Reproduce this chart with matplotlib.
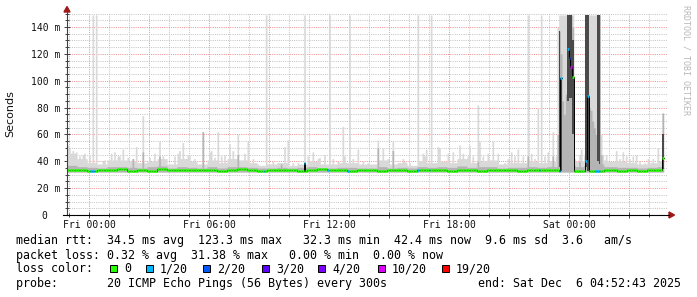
import numpy as np
import matplotlib
matplotlib.use("Agg")
import matplotlib.pyplot as plt
from matplotlib.patches import Polygon, Rectangle
from matplotlib.lines import Line2D
from matplotlib.ticker import MultipleLocator

nan = np.nan

# time axis: 5 minute steps, hours relative to Fri 00:00
START_H = -1.1214          # Thu 22:52:43
STEP_H = 5 / 60
N_STEPS = 360

# median rtt (ms), one value per 30 minutes
median_30min = [33.8, 33.2, 33.0, 33.6, 33.4, 34.2, 33.1, 33.5, 33.0, 33.9,
                33.3, 33.6, 33.2, 33.8, 33.4, 33.0, 33.5, 34.0, 33.3, 33.1,
                33.7, 33.2, 33.6, 33.0, 33.4, 33.9, 33.2, 33.5, 33.1, 33.6,
                33.3, 33.0, 33.8, 33.4, 33.1, 33.5, 33.2, 33.7, 33.0, 33.4,
                33.6, 33.1, 33.3, 33.8, 33.2, 33.0, 33.5, 33.3, 33.4, 33.2,
                33.1, 33.0, 33.3, 33.6, 33.2, 33.0, 33.4, 33.1, 33.5, 33.2]
# upper edge of light smoke (ms), per 30 minutes
smoke_top_30min = [46, 42, 39, 38, 41, 41, 40, 39, 40, 42,
                   38, 42, 40, 38, 41, 39, 42, 41, 39, 37,
                   38, 39, 37, 38, 40, 38, 38, 39, 39, 38,
                   38, 41, 38, 39, 37, 40, 39, 40, 39, 42,
                   39, 40, 41, 38, 39, 39, 40, 39, 40, 41,
                   40, 40, 39, 41, 40, 40, 39, 38, 39, 40]
# upper edge of denser smoke (ms), per 30 minutes
smoke_mid_30min = [37, 36, 35.5, 35, 36, 36, 35.5, 35, 36, 36.5,
                   35, 36, 35.5, 35, 36, 35, 36, 36, 35.5, 35,
                   35, 35.5, 35, 35.5, 36, 35, 35, 35.5, 35.5, 35,
                   35, 36, 35, 35.5, 35, 36, 35.5, 36, 35.5, 36.5,
                   35.5, 36, 36, 35, 35.5, 35.5, 36, 35.5, 36, 36,
                   36, 36, 35.5, 36, 36, 35.5, 35.5, 35, 35.5, 36]
SMOKE_FLOOR = 32.0

# single-step max rtt spikes
spike_hours = [-1.07, -0.97, -0.87, -0.67, -0.47, -0.37, -0.27, -0.02, 0.13, 0.33, 0.63, 0.73, 0.93, 1.08,
               1.28, 1.43, 1.53, 1.63, 1.93, 2.18, 2.33, 2.63, 3.03, 3.28, 3.53, 3.68, 3.83,
               4.28, 4.43, 4.53, 4.68, 4.88, 4.98, 5.28, 5.63, 5.83, 6.03, 6.08, 6.28, 6.43, 6.58,
               6.78, 7.03, 7.13, 7.43, 7.73, 7.93, 8.18, 8.43, 8.83,
               9.18, 9.58, 9.78, 9.93, 10.13, 10.43, 10.73, 10.93, 11.18, 11.38, 11.53, 11.73,
               11.98, 12.18, 12.43, 12.68, 12.78, 12.98, 13.18, 13.38, 13.63, 13.88,
               14.38, 14.63, 14.88, 15.18, 15.38, 15.68, 15.78, 16.03, 16.43, 16.63, 16.73, 16.83,
               17.08, 17.23, 17.38, 17.53, 17.93, 18.13, 18.53, 18.63, 18.88, 18.98, 19.18,
               19.38, 19.53, 19.63, 19.88, 20.13, 20.38, 20.73, 20.93, 21.08, 21.23, 21.38,
               21.63, 21.88, 22.08, 22.23, 22.38, 22.58, 22.73, 22.93, 23.18, 23.33,
               24.48, 24.58, 25.63, 25.83, 26.03, 26.33, 26.48, 26.68, 26.83, 26.98, 27.18,
               27.33, 27.53, 27.78, 27.93, 28.18, 28.43, 28.53]
spike_ms = [52, 50, 48, 47, 44, 45, 46, 45, 149, 149, 40, 41, 40, 46,
            47, 44, 44, 49, 43, 42, 51, 74, 43, 46, 55, 44, 40,
            44, 46, 48, 54, 45, 44, 42, 62, 38, 47, 48, 43, 62, 44,
            45, 53, 48, 60, 46, 55, 42, 38, 149,
            40, 38, 51, 56, 39, 39, 149, 44, 47, 42, 43, 45,
            149, 42, 40, 66, 44, 149, 42, 49, 40, 39,
            56, 50, 42, 55, 39, 42, 40, 39, 149, 46, 44, 49,
            149, 39, 51, 50, 46, 47, 52, 46, 44, 52, 44,
            82, 55, 44, 46, 55, 46, 39, 42, 47, 44, 49,
            44, 149, 46, 42, 80, 149, 44, 47, 62, 44,
            45, 49, 45, 45, 40, 48, 42, 47, 44, 42, 44,
            45, 40, 39, 42, 42, 50, 40]
# darker spikes in the dense smoke
dense_hours = [2.18, 2.63, 3.53, 5.63, 7.43, 9.58, 14.38, 15.18, 19.38, 21.88, 23.18, 24.48]
dense_ms = [42, 47, 44, 62, 45, 38, 50, 48, 40, 44, 44, 40]

# loss on the median line in quiet periods (x/20)
loss_hours = [0.08, 0.17, 0.25, 8.78, 10.73, 11.93, 12.93, 16.38, 17.03, 22.48]
loss_level = [1, 1, 1, 1, 1, 1, 1, 1, 1, 1]
median_fix_hours = [10.73]
median_fix_ms = [38.5]

# latency events around Sat 00:00 and the last sample, one entry per step
event_hours = [23.42, 23.50, 23.59, 23.67, 23.75, 23.84, 23.92, 24.00, 24.09, 24.17, 24.25,
               24.75, 24.84, 24.92, 25.00, 25.09, 25.17, 25.25, 25.34, 25.42, 25.50, 25.59, 25.67,
               28.67, 28.75, 28.84]
event_top = [140, 149, 149, 149, 149, 149, 149, 149, 149, 149, 42,
             44, 149, 149, 149, 149, 149, 149, 149, 149, 149, 60, 45,
             76, nan, nan]
event_mid = [60, 137, 120, 85, 75, 90, 149, 149, 149, 140, 37,
             37, 149, 100, 80, 78, 70, 65, 60, 149, 149, 45, 38,
             76, nan, nan]
event_dark_lo = [nan, 36, 33, nan, nan, nan, 85, 87, 87, 60, nan,
                 nan, 36, 33, nan, nan, nan, nan, nan, 40, 38, nan, nan,
                 34, nan, nan]
event_dark_hi = [nan, 137, 102, nan, nan, nan, 149, 149, 149, 130, nan,
                 nan, 149, 149, nan, nan, nan, nan, nan, 149, 149, nan, nan,
                 60, nan, nan]
event_median = [33.5, 33, 102, nan, nan, nan, 124, 117, 110, 103, 33,
                33, 40, 89, 33, 33, 33, 33, 33, 33, 33, 33, 33,
                42.4, nan, nan]
event_loss = [0, 1, 1, 0, 0, 0, 1, 2, 10, 0, 0,
              0, 1, 1, 0, 0, 0, 0, 1, 1, 1, 0, 0,
              0, 0, 0]

LOSS_COLORS = {0: "#26ff00", 1: "#00b8ff", 2: "#0059ff", 3: "#5e00ff",
               4: "#7e00ff", 10: "#dd00ff", 19: "#ff0000"}
legend_loss = [0, 1, 2, 3, 4, 10, 19]
legend_loss_labels = ["0", "1/20", "2/20", "3/20", "4/20", "10/20", "19/20"]

x_tick_hours = [0, 3, 6, 9, 12, 15, 18, 21, 24, 27]
x_tick_labels = ["Fri 00:00", "", "Fri 06:00", "", "Fri 12:00", "", "Fri 18:00", "", "Sat 00:00", ""]
y_tick_ms = [0, 20, 40, 60, 80, 100, 120, 140]
y_tick_labels = ["0  ", "20 m", "40 m", "60 m", "80 m", "100 m", "120 m", "140 m"]

legend_rows = [
    "median rtt:  34.5 ms avg  123.3 ms max   32.3 ms min  42.4 ms now  9.6 ms sd  3.6   am/s",
    "packet loss: 0.32 % avg  31.38 % max   0.00 % min  0.00 % now",
    "loss color:",
    "probe:       20 ICMP Echo Pings (56 Bytes) every 300s             end: Sat Dec  6 04:52:43 2025",
]

# ---- assemble per-step series ----
t = START_H + STEP_H * np.arange(N_STEPS)


def step_index(h):
    return int(np.floor((h - START_H) / STEP_H))


median = np.repeat(median_30min, 6).astype(float)
top = np.repeat(smoke_top_30min, 6).astype(float)
mid = np.repeat(smoke_mid_30min, 6).astype(float)
dark_lo = np.full(N_STEPS, nan)
dark_hi = np.full(N_STEPS, nan)
loss = np.zeros(N_STEPS, dtype=int)

for h, v in zip(spike_hours, spike_ms):
    i = step_index(h)
    top[i] = max(top[i], v)
for h, v in zip(dense_hours, dense_ms):
    i = step_index(h)
    mid[i] = max(mid[i], v)
for h, v in zip(loss_hours, loss_level):
    loss[step_index(h)] = v
for h, v in zip(median_fix_hours, median_fix_ms):
    median[step_index(h)] = v
for k, h in enumerate(event_hours):
    i = step_index(h)
    top[i] = event_top[k]
    mid[i] = event_mid[k]
    dark_lo[i] = event_dark_lo[k]
    dark_hi[i] = event_dark_hi[k]
    median[i] = event_median[k]
    loss[i] = event_loss[k]

floor = np.where(np.isnan(top), nan, SMOKE_FLOOR)

# every step becomes a flat segment [t, t + step]
xs = np.column_stack([t, t + STEP_H]).ravel()


def stepped(a):
    return np.repeat(np.asarray(a, dtype=float), 2)


# ---- figure ----
W, H = 697, 297
fig = plt.figure(figsize=(W / 100, H / 100), dpi=100)
fig.patch.set_facecolor("white")


def fx(x):
    return x / W


def fy(y):
    return 1 - y / H


ax = fig.add_axes([fx(67), fy(215), 600 / W, (215 - 13.6) / H])
ax.set_facecolor("white")

ax.fill_between(xs, stepped(floor), stepped(top), color="#d9d9d9", lw=0, zorder=3)
ax.fill_between(xs, stepped(floor), stepped(np.minimum(mid, top)), color="#b4b4b4", lw=0, zorder=3.2)
ax.fill_between(xs, stepped(dark_lo), stepped(dark_hi), color="#4a4a4a", lw=0, zorder=3.4)

ax.plot(xs, stepped(median), color="black", lw=0.7, zorder=4)
ok = ~np.isnan(median)
ax.hlines(median[ok], t[ok], t[ok] + STEP_H,
          colors=[LOSS_COLORS[v] for v in loss[ok]], lw=1.9, zorder=5)

ax.set_xlim(START_H, START_H + N_STEPS * STEP_H)
ax.set_ylim(0, 150)
ax.set_xticks(x_tick_hours, x_tick_labels)
ax.xaxis.set_minor_locator(MultipleLocator(1))
ax.set_yticks(y_tick_ms, y_tick_labels)
ax.yaxis.set_minor_locator(MultipleLocator(5))

ax.set_axisbelow(True)
ax.grid(which="minor", color="#c4c4c4", lw=0.72, linestyle=(0, (1, 1.2)))
ax.grid(which="major", color="#f09090", lw=0.72, linestyle=(0, (1, 1.2)))

for s in ax.spines.values():
    s.set_visible(False)

mono = "DejaVu Sans Mono"
ax.tick_params(which="both", direction="inout", color="#404040", width=0.7)
ax.tick_params(which="major", length=4)
ax.tick_params(which="minor", length=2.5)
ax.tick_params(axis="x", which="major", pad=1.5)
ax.tick_params(axis="y", which="major", pad=3)
for lab in ax.get_xticklabels() + ax.get_yticklabels():
    lab.set_fontfamily(mono)
    lab.set_fontsize(7)
    lab.set_color("#101010")

# axes with arrows
fig.add_artist(Line2D([fx(67), fx(67)], [fy(215), fy(11)], color="#404040", lw=0.8))
fig.add_artist(Line2D([fx(63), fx(669)], [fy(215), fy(215)], color="black", lw=0.8))
fig.add_artist(Polygon([(fx(67), fy(6.5)), (fx(64), fy(12)), (fx(70), fy(12))],
                       closed=True, color="#a01818", transform=fig.transFigure))
fig.add_artist(Polygon([(fx(674.5), fy(215)), (fx(669), fy(212)), (fx(669), fy(218))],
                       closed=True, color="#a01818", transform=fig.transFigure))

fig.text(fx(10), fy(114), "Seconds", rotation=90, ha="center", va="center",
         fontsize=8, family="DejaVu Sans", color="#101010")
fig.text(fx(686), fy(60), "RRDTOOL / TOBI OETIKER", rotation=270, ha="center", va="center",
         fontsize=6, family=mono, color="#b8b8b8")

# legend block, monospace rows
lk = dict(fontsize=8.37, family=mono, color="black", va="baseline")
for y, row in zip([244, 258.5, 272.5, 287], legend_rows):
    fig.text(fx(16), fy(y), row, **lk)
square_x = [110, 146, 203, 262, 318, 378, 442]
for x, lv, lab in zip(square_x, legend_loss, legend_loss_labels):
    fig.add_artist(Rectangle((fx(x), fy(272)), 7 / W, 7 / H, transform=fig.transFigure,
                             facecolor=LOSS_COLORS[lv], edgecolor="black", lw=0.7))
    fig.text(fx(x + 14), fy(272.5), lab, **lk)

fig.savefig("out.png", dpi=100)
